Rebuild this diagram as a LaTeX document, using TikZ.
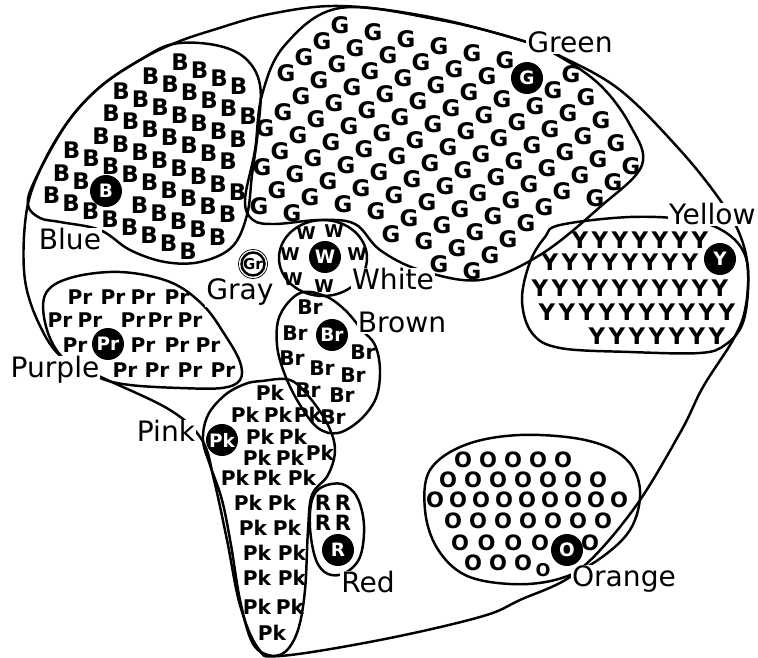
\documentclass[tikz,border=0pt]{standalone}
\usepackage{fontspec}
\setmainfont{DejaVu Sans}

\begin{document}
\begin{tikzpicture}[
    x=0.02cm, y=-0.02cm,
    every node/.style={font=\fontsize{13}{13}\selectfont\bfseries},
    region/.style={line width=1.4pt, line join=round},
    focal/.style={circle, fill=black, text=white, minimum size=0.64cm, inner sep=0pt, font=\fontsize{10.5}{10.5}\selectfont\bfseries},
    colname/.style={fill=white, inner sep=0.6pt, anchor=base, font=\fontsize{16}{16}\selectfont},
    pair/.style={inner sep=0pt, font=\fontsize{11.5}{11.5}\selectfont\bfseries},
    small/.style={font=\fontsize{12}{12}\selectfont\bfseries},
]
\useasboundingbox (0,0) rectangle (758,658);

\draw[region] plot[smooth cycle, tension=0.6] coordinates {(340,6) (430,17) (520,40) (560,56) (620,90) (680,150) (720,200) (740,235) (748,270) (745,310) (733,340) (703,387) (680,433) (633,510) (577,572) (520,600) (480,617) (380,640) (280,656) (258,648) (240,605) (227,540) (214,480) (202,440) (170,410) (103,378) (65,360) (42,330) (25,280) (26,215) (40,170) (67,123) (100,87) (140,60) (175,43) (213,30) (270,14)};
\draw[region] plot[smooth cycle, tension=0.6] coordinates {(173,44) (215,45) (245,58) (260,85) (258,130) (252,175) (247,215) (232,247) (200,262) (165,262) (130,250) (100,230) (60,222) (40,218) (28,205) (35,180) (67,123) (100,87) (140,60)};
\draw[region] plot[smooth cycle, tension=0.6] coordinates {(340,8) (440,20) (520,40) (557,55) (600,85) (630,125) (642,165) (600,207) (540,255) (480,280) (420,270) (380,250) (355,224) (320,220) (275,224) (253,220) (245,200) (255,150) (262,95) (285,45)};
\draw[region] (323,258) ellipse [x radius=44, y radius=38];
\draw[region] plot[smooth cycle, tension=0.6] coordinates {(560,225) (630,217) (690,220) (725,232) (745,255) (748,290) (742,325) (725,345) (700,353) (630,352) (560,348) (532,333) (522,300) (530,262) (545,237)};
\draw[region] plot[smooth cycle, tension=0.6] coordinates {(45,295) (70,278) (120,272) (170,282) (203,305) (225,335) (240,362) (240,380) (222,388) (180,388) (130,385) (100,378) (65,360) (47,330)};
\draw[region] plot[smooth cycle, tension=0.6] coordinates {(300,293) (325,296) (345,310) (362,330) (375,345) (380,370) (376,398) (360,420) (338,433) (318,428) (300,405) (285,375) (277,345) (280,315)};
\draw[region] plot[smooth cycle, tension=0.6] coordinates {(262,381) (290,380) (310,398) (328,425) (335,450) (328,475) (312,495) (308,530) (305,590) (298,630) (285,652) (268,655) (252,642) (240,600) (231,545) (222,500) (210,465) (203,440) (208,415) (225,395) (245,384)};
\draw[region] plot[smooth cycle, tension=0.6] coordinates {(322,487) (342,484) (357,497) (364,525) (360,557) (345,573) (328,574) (316,560) (310,528) (312,500)};
\draw[region] plot[smooth cycle, tension=0.6] coordinates {(430,470) (465,445) (520,435) (585,440) (625,458) (640,490) (630,530) (595,562) (555,580) (510,584) (465,575) (437,548) (425,510)};

\node[colname] (nBlue) at (70,250) {Blue};
\node[colname] (nGreen) at (570,53) {Green};
\node[colname, anchor=base east] (nYellow) at (757,225) {Yellow};
\node[colname] (nPurple) at (55,378) {Purple};
\node[colname] (nGray) at (240,300) {Gray};
\node[colname] (nWhite) at (393,290) {White};
\node[colname] (nBrown) at (402,333) {Brown};
\node[colname] (nPink) at (166,442) {Pink};
\node[colname] (nRed) at (368,593) {Red};
\node[colname] (nOrange) at (624,587) {Orange};

\foreach \j/\lo/\hi in {0/0/3,1/-1/4,2/-2/4,3/-2/4,4/-2/5,5/-3/5,6/1/5,7/-3/4}
  \foreach \i in {\lo,...,\hi}
    \node (b-\j-\i) at ({180+19.5*\i-10*\j},{62+8*\i+22.5*\j}) {B};
\foreach \j/\i in {6/-3,6/-2}
  \node (b-\j-\i) at ({180+19.5*\i-10*\j},{62+8*\i+22.5*\j}) {B};

\foreach \j/\lo/\hi in {0/0/5,1/0/5,2/0/9,3/0/10,4/1/11,5/1/11,6/1/11,7/2/10,8/2/10,9/3/10,10/7/10}
  \foreach \i in {\lo,...,\hi}
    \node (g-\j-\i) at ({340+33*\i-18*\j},{25+7*\i+16*\j}) {G};
\foreach \j/\i in {0/7,1/7,1/8,10/3,10/4,11/9,11/10}
  \node (g-\j-\i) at ({340+33*\i-18*\j},{25+7*\i+16*\j}) {G};

\foreach \p [count=\k] in {(306,233),(334,231),(290,254),(357,254),(293,279),(324,286)}
  \node[font=\fontsize{10}{10}\selectfont\bfseries] (w\k) at \p {W};

\foreach \y/\x/\n in {240/580/6,262/550/7,288/540/9,312/547/9,336/597/6}
  \foreach \k in {0,...,\n}
    \node (y-\y-\k) at ({\x+20*\k},\y) {Y};

\foreach \y/\x/\d/\n in {460/463/25/4,480/448/25/6,500/435/23/8,521/453/25/6,543/460/26.7/3,563/473/25/2}
  \foreach \k in {0,...,\n}
    \node[small] (o-\y-\k) at ({\x+\d*\k},\y) {O};
\node[small] (o-x1) at (590,543) {O};
\node[font=\fontsize{10}{10}\selectfont\bfseries] (o-x2) at (543,570) {O};

\foreach \p [count=\k] in {(80,297),(113,297),(143,297),(177,297),(60,320),(90,320),(133,320),(160,320),(190,320),(75,345),(143,345),(177,345),(208,345),(125,370),(157,370),(190,370),(223,370)}
  \node[pair] (pr\k) at \p {Pr};

\foreach \p [count=\k] in {(310,307),(295,333),(363,352),(292,358),(322,368),(353,375),(308,390),(342,395),(333,417)}
  \node[pair] (br\k) at \p {Br};

\foreach \p [count=\k] in {(270,393),(245,415),(278,415),(308,415),(260,437),(293,437),(257,458),(290,458),(320,453),(235,478),(267,478),(302,478),(248,503),(282,503),(253,528),(287,528),(257,553),(292,553),(257,578),(292,578),(257,607),(290,607),(272,633)}
  \node[pair] (pk\k) at \p {Pk};

\foreach \p [count=\k] in {(323,503),(343,503),(323,523),(343,523)}
  \node[small] (r\k) at \p {R};

\node[focal] (mB) at (106,191) {B};
\node[focal] (mG) at (527,78) {G};
\node[focal] (mW) at (325,257) {W};
\node[focal] (mY) at (720,259) {Y};
\node[focal] (mPr) at (108,344) {Pr};
\node[focal] (mBr) at (332,335) {Br};
\node[focal] (mPk) at (222,440) {Pk};
\node[focal] (mR) at (338,550) {R};
\node[focal] (mO) at (567,550) {O};
\node[circle, draw, line width=1.4pt, minimum size=0.46cm, inner sep=0pt, font=\fontsize{8.5}{8.5}\selectfont\bfseries] (mGr) at (253,264) {Gr};
\node[circle, draw, thin, minimum size=0.58cm] (rGr) at (mGr) {};
\end{tikzpicture}
\end{document}
